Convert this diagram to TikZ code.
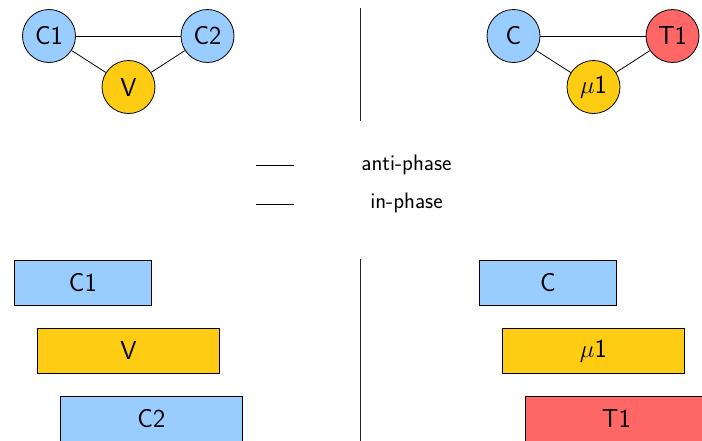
\documentclass[tikz,border=0pt]{standalone}
\definecolor{cblue}{RGB}{153,204,255}
\definecolor{cyellow}{RGB}{255,204,20}
\definecolor{cred}{RGB}{255,102,102}
\tikzset{
  osc/.style={circle, draw=black, line width=0.8pt, minimum size=53pt, inner sep=0pt,
    font=\sffamily\fontsize{26}{28}\selectfont},
  bar/.style={draw=black, line width=0.8pt, inner sep=0pt, anchor=north west,
    font=\sffamily\fontsize{26}{28}\selectfont},
  link/.style={draw=black, line width=0.8pt},
  sep/.style={draw=black!85, line width=1pt},
  legtext/.style={font=\sffamily\fontsize{22.5}{24}\selectfont, inner sep=0pt},
}
\begin{document}
\begin{tikzpicture}[x=1pt, y=-1pt]
\useasboundingbox (0,0) rectangle (702,440);
\clip (0,0) rectangle (702,440);

% coupling graphs
\node[osc, fill=cblue] (c1) at (49,36) {C1};
\node[osc, fill=cblue] (c2) at (207.5,36) {C2};
\node[osc, fill=cyellow] (v) at (128.5,87) {V};
\draw[link] (c1) -- (c2);
\draw[link] (c1) -- (v);
\draw[link] (c2) -- (v);

\node[osc, fill=cblue] (c) at (513.5,36) {C};
\node[osc, fill=cred] (t1) at (672.5,36) {T1};
\node[osc, fill=cyellow] (mu) at (593.5,87) {$\mu$1};
\draw[link] (c) -- (t1);
\draw[link] (c) -- (mu);
\draw[link] (t1) -- (mu);

% separators
\coordinate (s1a) at (360.5,8);
\coordinate (s1b) at (360.5,121);
\coordinate (s2a) at (360.5,259);
\coordinate (s2b) at (360.5,445);
\draw[sep] (s1a) -- (s1b);
\draw[sep] (s2a) -- (s2b);

% legend
\coordinate (la1) at (256,165.5);
\coordinate (la2) at (294,165.5);
\coordinate (lb1) at (256,204);
\coordinate (lb2) at (294,204);
\draw[link] (la1) -- (la2);
\draw[link] (lb1) -- (lb2);
\node[legtext] (anti) at (406.5,165) {anti-phase};
\node[legtext] (inph) at (406.5,203) {in-phase};

% timing bars
\node[bar, fill=cblue, minimum width=137pt, minimum height=45pt] (bc1) at (14,260) {C1};
\node[bar, fill=cyellow, minimum width=182pt, minimum height=45pt] (bv) at (37,328) {V};
\node[bar, fill=cblue, minimum width=182pt, minimum height=45pt] (bc2) at (60,396) {C2};

\node[bar, fill=cblue, minimum width=137pt, minimum height=45pt] (bc) at (479,260) {C};
\node[bar, fill=cyellow, minimum width=182pt, minimum height=45pt] (bmu) at (502,328) {$\mu$1};
\node[bar, fill=cred, minimum width=182pt, minimum height=45pt] (bt1) at (525,396) {T1};
\end{tikzpicture}
\end{document}
